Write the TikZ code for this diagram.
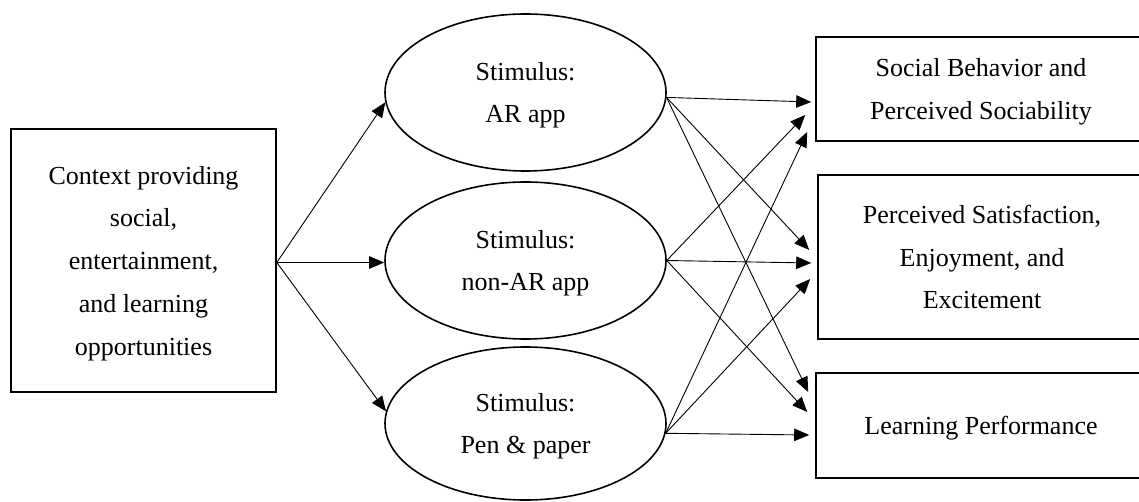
\documentclass[tikz,border=0pt]{standalone}
\usepackage{fontspec}
\setmainfont{Liberation Serif}
\usetikzlibrary{shapes.geometric,arrows.meta}
\begin{document}
\begin{tikzpicture}[x=1pt,y=-1pt,
  txt/.style={font=\fontsize{26}{42.75}\selectfont, align=center, inner sep=0pt,
    text depth=-7pt},
  box/.style={txt, draw, line width=1.6pt, rectangle},
  stim/.style={txt, draw, line width=1.6pt, ellipse, minimum width=281pt},
  arr/.style={line width=0.9pt, -{Triangle[length=15pt,width=12.5pt]}}]
\useasboundingbox (0,0) rectangle (1139,502);

% context box
\node[box, minimum width=265pt, minimum height=263pt] (ctx) at (143.5,260.5)
  {Context providing\\social,\\entertainment,\\and learning\\opportunities};

% stimulus ellipses
\node[stim, minimum height=157pt, text depth=-8pt] (ar)  at (525.5,92.5)  {Stimulus:\\AR app};
\node[stim, minimum height=157pt, text depth=-5pt] (nar) at (525.5,260.5) {Stimulus:\\non-AR app};
\node[stim, minimum height=153pt, text depth=-16pt] (pen) at (525.5,423.5)
  {Stimulus:\\Pen \& paper};

% outcome boxes (running off the right edge)
\node[box, minimum width=330pt, minimum height=104pt, text depth=-5pt] (soc) at (981,89)
  {Social Behavior and\\Perceived Sociability};
\node[box, minimum width=328pt, minimum height=164pt, text depth=-9pt] (sat) at (982,257)
  {Perceived Satisfaction,\\Enjoyment, and\\Excitement};
\node[box, minimum width=330pt, minimum height=105pt, text depth=-6pt] (lrn) at (981,425.5)
  {Learning Performance};

% context to stimuli
\draw[arr] ([yshift=-2pt]ctx.east) -- (ar.184.3);
\draw[arr] ([yshift=-2pt]ctx.east) -- ([yshift=-2pt]nar.west);
\draw[arr] ([yshift=-2pt]ctx.east) -- (pen.175.7);

% stimuli to outcomes
\draw[arr] (ar.-2.6) -- ([xshift=-4pt,yshift=-13pt]soc.west);
\draw[arr] (ar.-2.6) -- ([xshift=-8pt,yshift=7pt]sat.west);
\draw[arr] (ar.-2.6) -- ([xshift=-7pt,yshift=33.5pt]lrn.west);

\draw[arr] (nar.-0.6) -- ([xshift=-10pt,yshift=-26pt]soc.west);
\draw[arr] (nar.-0.6) -- ([xshift=-6pt,yshift=-6pt]sat.west);
\draw[arr] (nar.-0.6) -- ([xshift=-8pt,yshift=13.5pt]lrn.west);

\draw[arr] (pen.-4.7) -- ([xshift=-8pt,yshift=-43pt]soc.west);
\draw[arr] (pen.-4.7) -- ([xshift=-7pt,yshift=-22pt]sat.west);
\draw[arr] (pen.-4.7) -- ([xshift=-6pt,yshift=-9.5pt]lrn.west);
\end{tikzpicture}
\end{document}
